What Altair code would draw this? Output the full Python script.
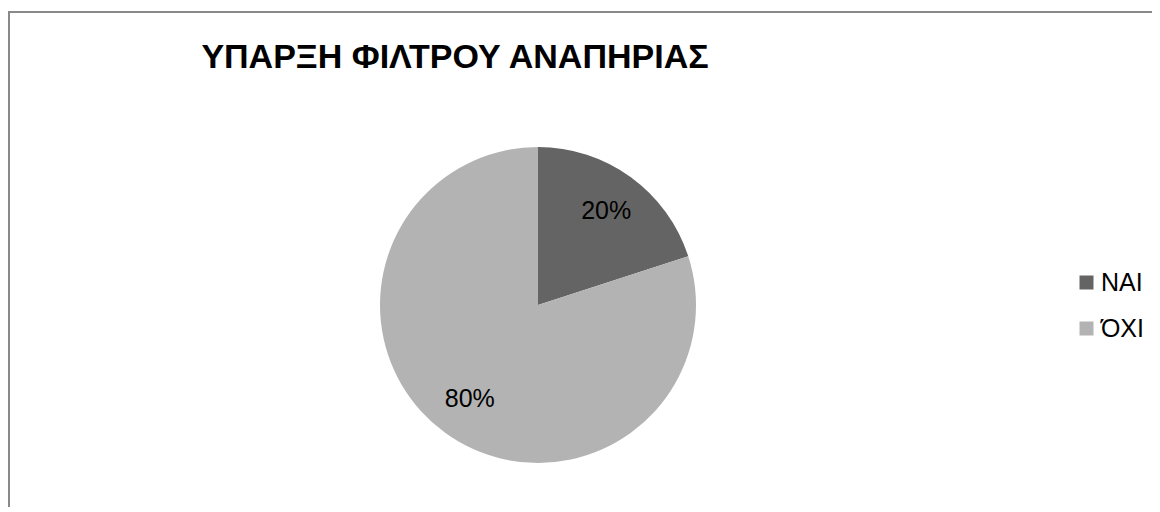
import altair as alt
import pandas as pd

categories = ["NAI", "ΌΧΙ"]
values = [20, 80]
labels = ["20%", "80%"]
colors = ["#646464", "#b3b3b3"]
title_text = "ΥΠΑΡΞΗ ΦΙΛΤΡΟΥ ΑΝΑΠΗΡΙΑΣ"

df = pd.DataFrame({"cat": categories, "val": values, "label": labels, "order": [0, 1]})

W, H = 1144, 496
cx, cy = 530, 294
R = 158
border = "#898989"

one = pd.DataFrame({"a": [0]})
top_rule = alt.Chart(one).mark_rule(color=border, strokeWidth=2).encode(
    x=alt.value(0), x2=alt.value(W), y=alt.value(1))
left_rule = alt.Chart(one).mark_rule(color=border, strokeWidth=2).encode(
    x=alt.value(1), y=alt.value(0), y2=alt.value(H))

base = alt.Chart(df).encode(
    theta=alt.Theta("val:Q", stack=True),
    order=alt.Order("order:Q"),
)
pie = base.mark_arc(radius=R).encode(
    x=alt.value(cx), y=alt.value(cy),
    color=alt.Color(
        "cat:N",
        scale=alt.Scale(domain=categories, range=colors),
        sort=categories,
        legend=alt.Legend(
            title=None, orient="none", legendX=1066, legendY=259,
            symbolType="square", symbolSize=196, symbolStrokeWidth=0,
            labelFontSize=25, labelFont="Liberation Sans", labelColor="black",
            rowPadding=20, labelOffset=2, padding=0,
        ),
    ),
)
text = base.mark_text(radius=116, fontSize=25, font="Liberation Sans", color="black").encode(
    x=alt.value(cx), y=alt.value(cy), text="label:N")

title = alt.Chart(one).mark_text(
    text=title_text, font="Liberation Sans Narrow, Arial Narrow, Liberation Sans", fontWeight="bold",
    fontSize=34, align="center", baseline="alphabetic", color="black",
).encode(x=alt.value(447), y=alt.value(57))

chart = alt.layer(top_rule, left_rule, pie, text, title).properties(
    width=W, height=H,
    padding={"left": 0, "top": 3, "right": 0, "bottom": 0},
    autosize="none",
).configure_view(stroke=None)

chart.save("out.html", embed_options={"renderer": "svg", "actions": False})
